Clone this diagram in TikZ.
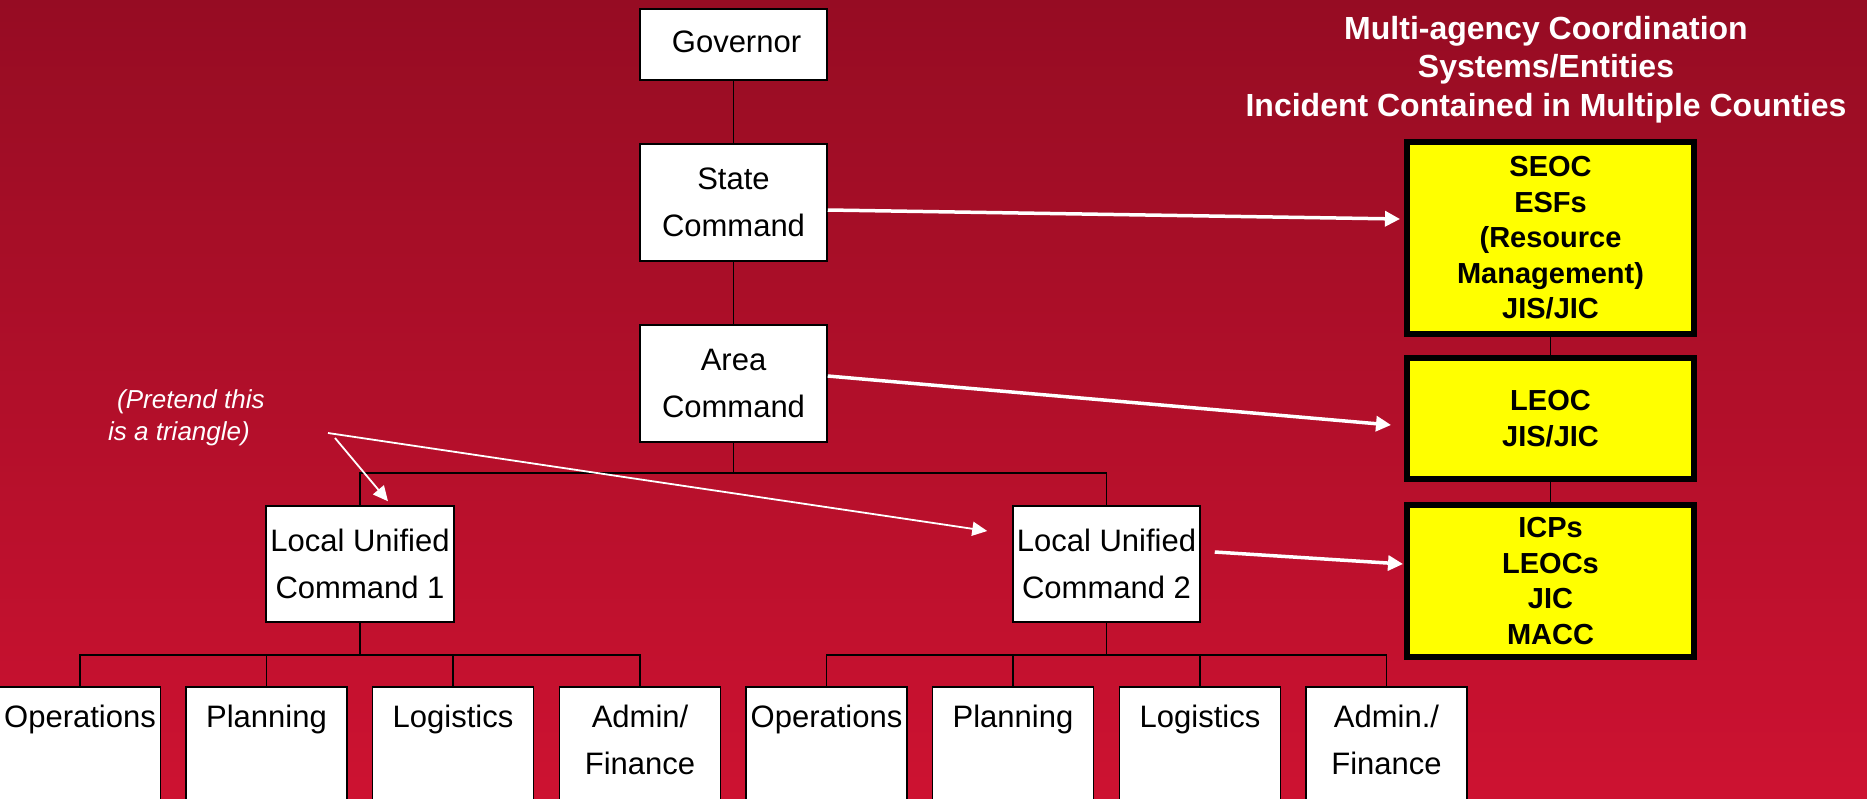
\documentclass[tikz,border=0pt]{standalone}
\usepackage{fontspec}
\setmainfont{Liberation Sans}
\usetikzlibrary{arrows.meta,calc}
\definecolor{bgtop}{RGB}{150,12,35}
\definecolor{bgbot}{RGB}{205,18,49}
\definecolor{ylw}{RGB}{255,255,0}
\begin{document}
\begin{tikzpicture}[x=1pt,y=-1pt,
  wbox/.style={draw=black,line width=1.5pt,fill=white,inner sep=0pt,align=center,
    font=\fontsize{31}{47}\selectfont},
  sbox/.style={draw=black,line width=1.5pt,fill=white,inner sep=0pt,
    minimum width=161pt,minimum height=150pt,anchor=north},
  stext/.style={anchor=north,inner sep=0pt,align=center,yshift=-19pt,
    font=\fontsize{31}{47}\selectfont},
  ybox/.style={draw=black,line width=6pt,fill=ylw,inner sep=0pt,align=center,
    minimum width=287pt,font=\fontsize{29}{35.5}\selectfont\bfseries},
  conn/.style={draw=black,line width=1.5pt},
  warrow/.style={draw=white,line width=3.5pt,-{Triangle[length=15pt,width=15pt]}},
  tarrow/.style={draw=white,line width=1.8pt,-{Triangle[length=15pt,width=14pt]}}
]
\useasboundingbox (0,0) rectangle (1867,798);
\clip (0,0) rectangle (1867,798);
\shade[top color=bgtop,bottom color=bgbot] (0,0) rectangle (1867,798);

% title
\node[anchor=north,inner sep=0pt,align=center,text=white,
  font=\fontsize{32}{38.5}\selectfont\bfseries] (title) at (1546,16)
  {Multi-agency Coordination\\Systems/Entities\\Incident Contained in Multiple Counties};

% command chain
\node[wbox,minimum width=187pt,minimum height=71pt] (gov) at (733.5,44.5) {};
\node[inner sep=0pt,font=\fontsize{31}{47}\selectfont] (govt) at ([xshift=3pt,yshift=2.5pt]gov.center) {Governor};
\node[wbox,minimum width=187pt,minimum height=117pt] (state) at (733.5,202.5) {State\\Command};
\node[wbox,minimum width=187pt,minimum height=117pt] (area) at (733.5,383.5) {Area\\Command};
\node[wbox,minimum width=188pt,minimum height=116pt] (luc1) at (360,564) {Local Unified\\Command 1};
\node[wbox,minimum width=187pt,minimum height=116pt] (luc2) at (1106.5,564) {Local Unified\\Command 2};

% sections
\node[sbox] (ops1) at (80,686) {};
\node[sbox] (pln1) at (266.5,686) {};
\node[sbox] (log1) at (453,686) {};
\node[sbox] (adm1) at (640,686) {};
\node[sbox] (ops2) at (826.5,686) {};
\node[sbox] (pln2) at (1013,686) {};
\node[sbox] (log2) at (1200,686) {};
\node[sbox] (adm2) at (1386.5,686) {};
\node[stext] (ops1t) at (ops1.north) {Operations};
\node[stext] (pln1t) at (pln1.north) {Planning};
\node[stext] (log1t) at (log1.north) {Logistics};
\node[stext] (adm1t) at (adm1.north) {Admin/\\Finance};
\node[stext] (ops2t) at (ops2.north) {Operations};
\node[stext] (pln2t) at (pln2.north) {Planning};
\node[stext] (log2t) at (log2.north) {Logistics};
\node[stext] (adm2t) at (adm2.north) {Admin./\\Finance};

% MAC boxes
\node[ybox,minimum height=192pt] (seoc) at (1550.5,238) {SEOC\\ESFs\\(Resource\\Management)\\JIS/JIC};
\node[ybox,minimum height=121pt] (leoc) at (1550.5,418.5) {LEOC\\JIS/JIC};
\node[ybox,minimum height=152pt] (icps) at (1550.5,581) {ICPs\\LEOCs\\JIC\\MACC};

% triangle note
\node[anchor=north west,inner sep=0pt,align=left,text=white,
  font=\fontsize{26}{32}\selectfont\itshape] (note) at (108,389)
  {\hspace*{9pt}(Pretend this\\is a triangle)};
\coordinate (triA) at (328,433);
\coordinate (triB) at (335,438);

% black connectors
\draw[conn] (gov.south) -- (state.north);
\draw[conn] (state.south) -- (area.north);
\coordinate (jA) at (733.5,473);
\draw[conn] (area.south) -- (jA);
\draw[conn] (luc1.north) |- (jA) -| (luc2.north);
\coordinate (j1) at (360,655);
\draw[conn] (luc1.south) -- (j1);
\draw[conn] (ops1.north) |- (j1) -| (adm1.north);
\draw[conn] (pln1.north) -- (pln1.north |- j1);
\draw[conn] (log1.north) -- (log1.north |- j1);
\coordinate (j2) at (1106.5,655);
\draw[conn] (luc2.south) -- (j2);
\draw[conn] (ops2.north) |- (j2) -| (adm2.north);
\draw[conn] (pln2.north) -- (pln2.north |- j2);
\draw[conn] (log2.north) -- (log2.north |- j2);
\draw[conn] (seoc.south) -- (leoc.north);
\draw[conn] (leoc.south) -- (icps.north);

% white arrows
\draw[warrow] ([yshift=-7.5pt]state.east) -- ([xshift=-4pt,yshift=19pt]seoc.west);
\draw[warrow] ([yshift=7.5pt]area.east) -- ([xshift=-13pt,yshift=-6.5pt]leoc.west);
\draw[warrow] ([xshift=14pt,yshift=12pt]luc2.east) -- ([xshift=-1pt,yshift=17pt]icps.west);
\draw[tarrow] (triA) -- ([xshift=-25pt,yshift=33pt]luc2.west);
\draw[tarrow] (triB) -- ([xshift=28pt,yshift=4pt]luc1.north);
\end{tikzpicture}
\end{document}
